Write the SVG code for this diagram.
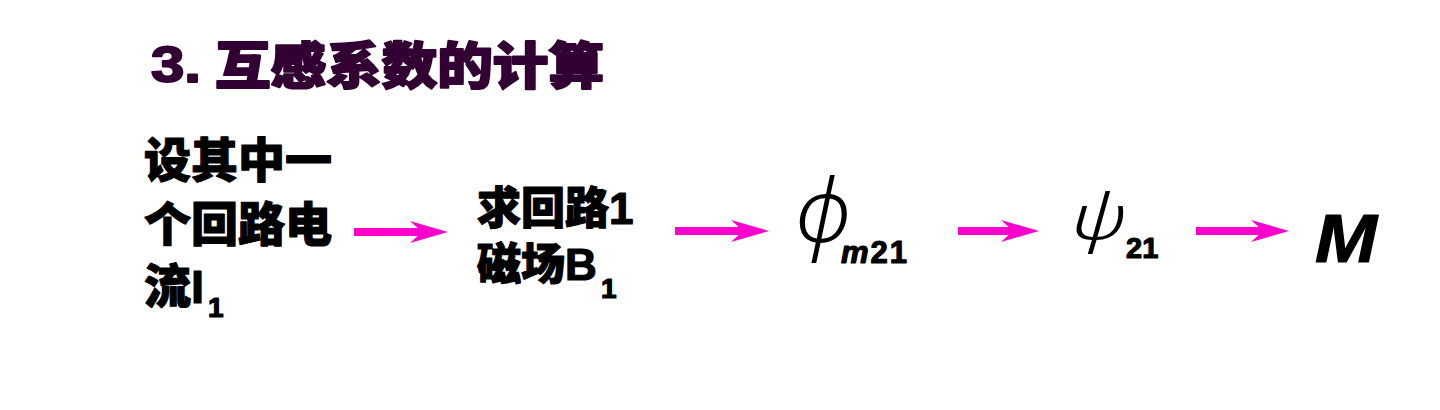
<svg xmlns="http://www.w3.org/2000/svg" width="1440" height="410" viewBox="0 0 1440 410">
<style>
.title{font-family:"Liberation Sans","Noto Sans CJK SC",sans-serif;font-weight:900;font-size:50px;fill:#330033;stroke:#330033;stroke-width:2;stroke-linejoin:round}
.t{font-family:"Liberation Sans","Noto Sans CJK SC",sans-serif;font-weight:900;fill:#000;stroke:#000;stroke-width:1.2;stroke-linejoin:round}
.g{font-family:"Noto Sans","DejaVu Sans",sans-serif;font-style:italic;font-weight:300;fill:#000}
.conn{stroke:#FF00CC;stroke-width:8;fill:none}
</style>
<defs>
<marker id="ah" viewBox="0 0 38 24" refX="12" refY="12" markerWidth="38" markerHeight="24" markerUnits="userSpaceOnUse" orient="auto">
<path d="M0,1 L38,12 L0,23 L12,12 Z" fill="#FF00CC"/>
</marker>
</defs>
<rect width="1440" height="410" fill="#fff"/>
<g id="title">
<text class="title" x="151" y="82" textLength="50" lengthAdjust="spacingAndGlyphs">3.</text>
<text class="title" x="215" y="84" textLength="389" lengthAdjust="spacingAndGlyphs">互感系数的计算</text>
</g>
<g id="node-current">
<text class="t" font-size="47" x="144" y="177" textLength="188" lengthAdjust="spacingAndGlyphs">设其中一</text>
<text class="t" font-size="47" x="144" y="241" textLength="188" lengthAdjust="spacingAndGlyphs">个回路电</text>
<text class="t" font-size="47" x="144" y="303">流I</text>
<text class="t" font-size="28" x="208" y="317">1</text>
</g>
<g id="node-field">
<text class="t" font-size="44" x="477" y="224">求回路1</text>
<text class="t" font-size="44" x="477" y="280">磁场B</text>
<text class="t" font-size="28" x="601" y="298">1</text>
</g>
<g id="node-phi">
<text class="g" font-size="88" x="795" y="242">ϕ</text>
<text class="t" font-size="31" x="841" y="263" letter-spacing="2" stroke-width="0.6"><tspan font-style="italic">m</tspan>21</text>
</g>
<g id="node-psi">
<text class="g" font-size="62" transform="translate(1071,239) scale(1.35,1)" x="0" y="0">ψ</text>
<text class="t" font-size="29" x="1126" y="258">21</text>
</g>
<g id="node-M">
<text class="t" font-size="68" font-style="italic" x="1315" y="262" stroke-width="2.4" textLength="62" lengthAdjust="spacingAndGlyphs">M</text>
</g>
<g id="connectors">
<line class="conn" x1="354" y1="232" x2="422" y2="232" marker-end="url(#ah)"/>
<line class="conn" x1="675" y1="231" x2="743" y2="231" marker-end="url(#ah)"/>
<line class="conn" x1="958" y1="231" x2="1013" y2="231" marker-end="url(#ah)"/>
<line class="conn" x1="1196" y1="231" x2="1263" y2="231" marker-end="url(#ah)"/>
</g>
</svg>
